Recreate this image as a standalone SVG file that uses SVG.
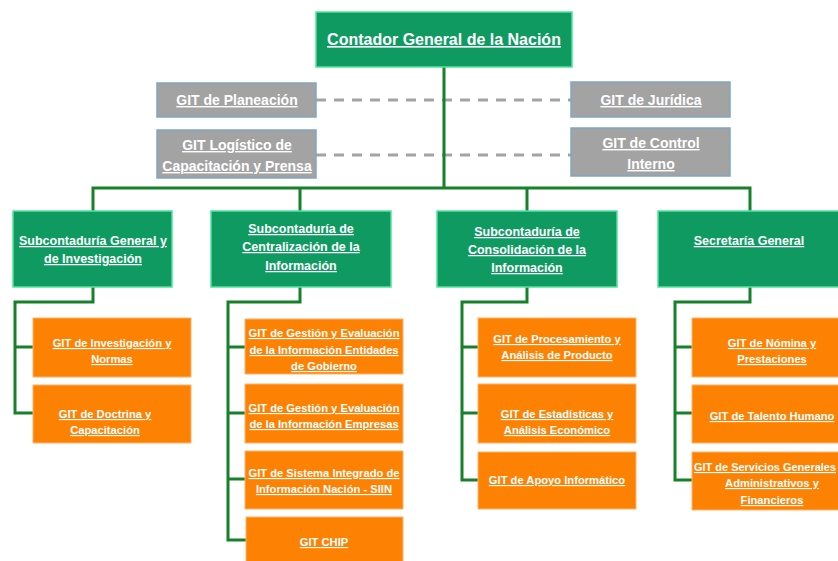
<svg xmlns="http://www.w3.org/2000/svg" width="838" height="561" viewBox="0 0 838 561">
<style>
text{font-family:"Liberation Sans",Arial,sans-serif;font-weight:bold;fill:#fff;text-decoration:underline;text-anchor:middle}
.g{fill:#0f9a62;stroke:#52e39d;stroke-width:1.5}
.gr{fill:#a3a3a3;stroke:#7fa6c4;stroke-width:1.5}
.o{fill:#fd8204;stroke:#ffb46a;stroke-width:1}
.t1{font-size:16px}
.t2{font-size:14px}
.t3{font-size:12.5px}
.t4{font-size:11.2px}
.c{fill:none;stroke:#17802a;stroke-width:3}
.d{fill:none;stroke:#a3a3a3;stroke-width:3;stroke-dasharray:10 8}
</style>
<g id="connectors">
<path class="d" d="M316 100H571M316 155H571"/>
<path class="c" d="M444 67V188M93 211V188H750V211M300 188V211M527 188V211"/>
<path class="c" d="M93 287V302H15V413H33M15 347H33"/>
<path class="c" d="M300 287V302H228V540H246M228 347H245M228 413H245M228 479H245"/>
<path class="c" d="M527 287V302H462V480H478M462 347H478M462 413H478"/>
<path class="c" d="M750 287V302H675V480H692M675 347H692M675 413H692"/>
</g>
<g id="contador"><rect class="g" x="316" y="12" width="256" height="55"/><text class="t1" x="444" y="45">Contador General de la Nación</text></g>
<g id="planeacion"><rect class="gr" x="157" y="83" width="159" height="34"/><text class="t2" x="237" y="105">GIT de Planeación</text></g>
<g id="juridica"><rect class="gr" x="571" y="82" width="159" height="35"/><text class="t2" x="651" y="105">GIT de Jurídica</text></g>
<g id="logistico"><rect class="gr" x="157" y="130" width="159" height="48"/><text class="t2" x="237" y="150">GIT Logístico de</text><text class="t2" x="237" y="171">Capacitación y Prensa</text></g>
<g id="control"><rect class="gr" x="571" y="128" width="159" height="48"/><text class="t2" x="651" y="148">GIT de Control</text><text class="t2" x="651" y="169">Interno</text></g>
<g id="sub-general"><rect class="g" x="13" y="211" width="159" height="76"/><text class="t3" x="93" y="245">Subcontaduría General y</text><text class="t3" x="93" y="263">de Investigación</text></g>
<g id="sub-centralizacion"><rect class="g" x="211" y="211" width="180" height="76"/><text class="t3" x="301" y="233">Subcontaduría de</text><text class="t3" x="301" y="251">Centralización de la</text><text class="t3" x="301" y="270">Información</text></g>
<g id="sub-consolidacion"><rect class="g" x="437" y="211" width="180" height="76"/><text class="t3" x="527" y="236">Subcontaduría de</text><text class="t3" x="527" y="254">Consolidación de la</text><text class="t3" x="527" y="272">Información</text></g>
<g id="secretaria"><rect class="g" x="658" y="211" width="182" height="76"/><text class="t3" x="749" y="245">Secretaría General</text></g>
<g id="investigacion"><rect class="o" x="33" y="318" width="158" height="59"/><text class="t4" x="112" y="347">GIT de Investigación y</text><text class="t4" x="112" y="363">Normas</text></g>
<g id="doctrina"><rect class="o" x="33" y="385" width="158" height="58"/><text class="t4" x="105" y="418">GIT de Doctrina y</text><text class="t4" x="105" y="434">Capacitación</text></g>
<g id="gestion-gobierno"><rect class="o" x="245" y="319" width="158" height="55"/><text class="t4" x="324" y="337">GIT de Gestión y Evaluación</text><text class="t4" x="324" y="354">de la Información Entidades</text><text class="t4" x="324" y="370">de Gobierno</text></g>
<g id="gestion-empresas"><rect class="o" x="245" y="384" width="158" height="59"/><text class="t4" x="324" y="412">GIT de Gestión y Evaluación</text><text class="t4" x="324" y="428">de la Información Empresas</text></g>
<g id="siin"><rect class="o" x="245" y="451" width="158" height="58"/><text class="t4" x="324" y="477">GIT de Sistema Integrado de</text><text class="t4" x="324" y="493">Información Nación - SIIN</text></g>
<g id="chip"><rect class="o" x="246" y="517" width="157" height="50"/><text class="t4" x="324" y="546">GIT CHIP</text></g>
<g id="procesamiento"><rect class="o" x="478" y="318" width="158" height="59"/><text class="t4" x="557" y="343">GIT de Procesamiento y</text><text class="t4" x="557" y="359">Análisis de Producto</text></g>
<g id="estadisticas"><rect class="o" x="478" y="384" width="158" height="59"/><text class="t4" x="557" y="418">GIT de Estadísticas y</text><text class="t4" x="557" y="434">Análisis Económico</text></g>
<g id="apoyo"><rect class="o" x="478" y="452" width="158" height="57"/><text class="t4" x="557" y="484">GIT de Apoyo Informático</text></g>
<g id="nomina"><rect class="o" x="692" y="318" width="150" height="59"/><text class="t4" x="772" y="347">GIT de Nómina y</text><text class="t4" x="772" y="363">Prestaciones</text></g>
<g id="talento"><rect class="o" x="692" y="385" width="150" height="58"/><text class="t4" x="772" y="420">GIT de Talento Humano</text></g>
<g id="servicios"><rect class="o" x="692" y="452" width="150" height="58"/><text class="t4" x="765" y="471" textLength="142" lengthAdjust="spacingAndGlyphs">GIT de Servicios Generales</text><text class="t4" x="772" y="487">Administrativos y</text><text class="t4" x="772" y="504">Financieros</text></g>
</svg>
